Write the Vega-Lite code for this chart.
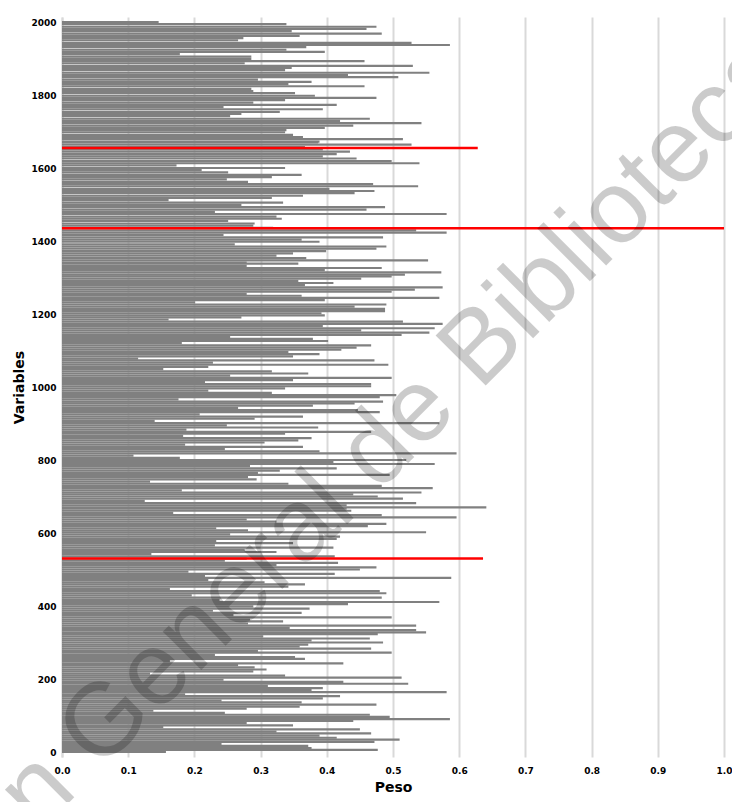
{
"$schema": "https://vega.github.io/schema/vega-lite/v6.json",
"width": 662, "height": 740,
"autosize": {"type": "none"},
"padding": {"left": 62, "top": 17, "right": 8, "bottom": 45},
"background": "white",
"config": {"view": {"stroke": null}, "font": "DejaVu Sans"},
"datasets": {
"g": [
{"v":2000,"p":0.146},{"v":1994,"p":0.339},{"v":1987,"p":0.475},{"v":1981,"p":0.460},{"v":1975,"p":0.347},{"v":1968,"p":0.483},{"v":1962,"p":0.359},{"v":1956,"p":0.274},{"v":1950,"p":0.266},{"v":1943,"p":0.528},{"v":1937,"p":0.586},{"v":1931,"p":0.369},{"v":1924,"p":0.339},{"v":1918,"p":0.397},{"v":1912,"p":0.178},{"v":1905,"p":0.286},{"v":1899,"p":0.286},{"v":1893,"p":0.457},{"v":1887,"p":0.276},{"v":1880,"p":0.530},{"v":1874,"p":0.347},{"v":1868,"p":0.337},{"v":1861,"p":0.555},{"v":1855,"p":0.432},{"v":1849,"p":0.508},{"v":1842,"p":0.296},{"v":1836,"p":0.377},{"v":1830,"p":0.342},{"v":1824,"p":0.457},{"v":1817,"p":0.286},{"v":1811,"p":0.289},{"v":1805,"p":0.352},{"v":1798,"p":0.382},{"v":1792,"p":0.475},{"v":1786,"p":0.337},{"v":1779,"p":0.289},{"v":1773,"p":0.415},{"v":1767,"p":0.244},{"v":1761,"p":0.394},{"v":1754,"p":0.329},{"v":1748,"p":0.271},{"v":1742,"p":0.254},{"v":1735,"p":0.465},{"v":1729,"p":0.420},{"v":1723,"p":0.543},{"v":1716,"p":0.440},{"v":1710,"p":0.397},{"v":1704,"p":0.339},{"v":1698,"p":0.337},{"v":1691,"p":0.349},{"v":1685,"p":0.364},{"v":1679,"p":0.515},{"v":1672,"p":0.389},
{"v":1670,"p":0.387},{"v":1664,"p":0.528},{"v":1657,"p":0.367},{"v":1651,"p":0.394},{"v":1645,"p":0.435},{"v":1638,"p":0.415},{"v":1632,"p":0.394},{"v":1626,"p":0.445},{"v":1619,"p":0.498},{"v":1613,"p":0.540},{"v":1607,"p":0.173},{"v":1600,"p":0.337},{"v":1594,"p":0.211},{"v":1588,"p":0.251},{"v":1581,"p":0.362},{"v":1575,"p":0.317},{"v":1569,"p":0.249},{"v":1562,"p":0.281},{"v":1556,"p":0.470},{"v":1550,"p":0.538},{"v":1543,"p":0.404},{"v":1537,"p":0.472},{"v":1531,"p":0.442},{"v":1524,"p":0.364},{"v":1518,"p":0.317},{"v":1512,"p":0.161},{"v":1505,"p":0.334},{"v":1499,"p":0.271},{"v":1493,"p":0.488},{"v":1486,"p":0.460},{"v":1480,"p":0.231},{"v":1474,"p":0.581},{"v":1467,"p":0.324},{"v":1461,"p":0.332},{"v":1455,"p":0.251},{"v":1448,"p":0.291},{"v":1442,"p":0.289},{"v":1436,"p":0.319},{"v":1429,"p":0.535},{"v":1423,"p":0.581},{"v":1417,"p":0.244},{"v":1410,"p":0.485},{"v":1404,"p":0.362},{"v":1398,"p":0.389},{"v":1391,"p":0.261},{"v":1385,"p":0.490},{"v":1379,"p":0.475},{"v":1372,"p":0.399},{"v":1366,"p":0.349},{"v":1360,"p":0.324},{"v":1353,"p":0.369},{"v":1347,"p":0.553},{"v":1341,"p":0.279},
{"v":1338,"p":0.357},{"v":1332,"p":0.279},{"v":1326,"p":0.483},{"v":1320,"p":0.397},{"v":1314,"p":0.573},{"v":1308,"p":0.518},{"v":1303,"p":0.498},{"v":1297,"p":0.452},{"v":1291,"p":0.357},{"v":1285,"p":0.410},{"v":1279,"p":0.367},{"v":1273,"p":0.575},{"v":1267,"p":0.533},{"v":1261,"p":0.498},{"v":1255,"p":0.279},{"v":1250,"p":0.362},{"v":1244,"p":0.570},{"v":1238,"p":0.397},{"v":1232,"p":0.201},{"v":1226,"p":0.490},{"v":1220,"p":0.442},{"v":1214,"p":0.488},{"v":1208,"p":0.488},{"v":1202,"p":0.392},{"v":1196,"p":0.397},{"v":1191,"p":0.271},{"v":1185,"p":0.161},{"v":1179,"p":0.515},{"v":1173,"p":0.575},{"v":1167,"p":0.394},{"v":1161,"p":0.563},{"v":1155,"p":0.452},{"v":1149,"p":0.555},{"v":1143,"p":0.513},{"v":1137,"p":0.254},{"v":1132,"p":0.379},{"v":1126,"p":0.402},{"v":1120,"p":0.181},{"v":1114,"p":0.467},{"v":1108,"p":0.445},{"v":1102,"p":0.422},{"v":1096,"p":0.342},{"v":1090,"p":0.389},{"v":1084,"p":0.349},{"v":1078,"p":0.115},{"v":1073,"p":0.472},{"v":1067,"p":0.228},{"v":1061,"p":0.493},{"v":1055,"p":0.221},{"v":1049,"p":0.153},{"v":1043,"p":0.317},{"v":1037,"p":0.372},{"v":1031,"p":0.254},{"v":1025,"p":0.498},{"v":1019,"p":0.349},{"v":1014,"p":0.216},{"v":1008,"p":0.467},
{"v":1002,"p":0.467},{"v":996,"p":0.337},{"v":990,"p":0.221},{"v":984,"p":0.317},{"v":978,"p":0.505},{"v":972,"p":0.480},{"v":966,"p":0.176},{"v":960,"p":0.485},{"v":955,"p":0.442},{"v":949,"p":0.379},{"v":943,"p":0.266},{"v":937,"p":0.447},{"v":931,"p":0.480},{"v":925,"p":0.208},{"v":919,"p":0.364},{"v":913,"p":0.291},{"v":907,"p":0.140},{"v":901,"p":0.570},{"v":895,"p":0.249},{"v":889,"p":0.387},{"v":883,"p":0.188},{"v":877,"p":0.467},{"v":872,"p":0.337},{"v":866,"p":0.183},{"v":860,"p":0.377},{"v":854,"p":0.357},{"v":848,"p":0.306},{"v":842,"p":0.186},{"v":836,"p":0.364},{"v":830,"p":0.246},{"v":824,"p":0.389},{"v":818,"p":0.596},{"v":812,"p":0.108},{"v":806,"p":0.178},{"v":800,"p":0.520},{"v":794,"p":0.410},{"v":789,"p":0.563},{"v":783,"p":0.284},{"v":777,"p":0.415},{"v":771,"p":0.329},{"v":765,"p":0.296},{"v":759,"p":0.495},{"v":753,"p":0.281},{"v":747,"p":0.294},{"v":741,"p":0.133},{"v":735,"p":0.342},{"v":729,"p":0.483},{"v":723,"p":0.560},{"v":717,"p":0.181},{"v":711,"p":0.543},{"v":706,"p":0.440},{"v":700,"p":0.477},{"v":694,"p":0.515},{"v":688,"p":0.125},{"v":682,"p":0.535},{"v":676,"p":0.430},{"v":670,"p":0.641},
{"v":667,"p":0.430},{"v":661,"p":0.437},{"v":655,"p":0.168},{"v":649,"p":0.483},{"v":643,"p":0.596},{"v":637,"p":0.279},{"v":631,"p":0.324},{"v":625,"p":0.490},{"v":619,"p":0.462},{"v":613,"p":0.233},{"v":607,"p":0.281},{"v":602,"p":0.550},{"v":596,"p":0.254},{"v":590,"p":0.420},{"v":584,"p":0.415},{"v":578,"p":0.233},{"v":572,"p":0.349},{"v":566,"p":0.231},{"v":560,"p":0.410},{"v":554,"p":0.276},{"v":548,"p":0.324},{"v":542,"p":0.135},{"v":536,"p":0.412},{"v":530,"p":0.279},{"v":524,"p":0.246},{"v":518,"p":0.417},{"v":512,"p":0.324},{"v":506,"p":0.475},{"v":500,"p":0.450},{"v":494,"p":0.191},{"v":488,"p":0.412},{"v":482,"p":0.216},{"v":477,"p":0.588},{"v":471,"p":0.221},{"v":465,"p":0.306},{"v":459,"p":0.367},{"v":453,"p":0.342},{"v":447,"p":0.163},{"v":441,"p":0.480},{"v":435,"p":0.490},{"v":429,"p":0.196},{"v":423,"p":0.483},{"v":417,"p":0.238},{"v":411,"p":0.570},{"v":405,"p":0.432},{"v":399,"p":0.289},{"v":393,"p":0.374},{"v":387,"p":0.228},{"v":381,"p":0.362},{"v":375,"p":0.259},{"v":369,"p":0.498},{"v":363,"p":0.284},{"v":358,"p":0.334},{"v":352,"p":0.281},{"v":346,"p":0.535},{"v":340,"p":0.344},
{"v":334,"p":0.535},{"v":328,"p":0.550},{"v":323,"p":0.477},{"v":317,"p":0.304},{"v":311,"p":0.465},{"v":306,"p":0.377},{"v":300,"p":0.485},{"v":294,"p":0.372},{"v":289,"p":0.359},{"v":283,"p":0.467},{"v":277,"p":0.296},{"v":272,"p":0.498},{"v":266,"p":0.231},{"v":260,"p":0.352},{"v":255,"p":0.367},{"v":249,"p":0.163},{"v":243,"p":0.425},{"v":238,"p":0.266},{"v":232,"p":0.291},{"v":226,"p":0.309},{"v":221,"p":0.289},{"v":215,"p":0.133},{"v":209,"p":0.337},{"v":204,"p":0.513},{"v":198,"p":0.244},{"v":192,"p":0.425},{"v":187,"p":0.523},{"v":181,"p":0.311},{"v":175,"p":0.394},{"v":170,"p":0.377},{"v":164,"p":0.581},{"v":158,"p":0.186},{"v":153,"p":0.420},{"v":147,"p":0.394},{"v":141,"p":0.241},{"v":136,"p":0.362},{"v":130,"p":0.475},{"v":124,"p":0.359},{"v":119,"p":0.279},{"v":113,"p":0.138},{"v":107,"p":0.246},{"v":102,"p":0.465},{"v":96,"p":0.495},{"v":90,"p":0.586},{"v":85,"p":0.440},{"v":79,"p":0.279},{"v":73,"p":0.349},{"v":68,"p":0.153},{"v":62,"p":0.450},{"v":56,"p":0.324},{"v":51,"p":0.467},{"v":45,"p":0.389},{"v":39,"p":0.415},{"v":34,"p":0.510},{"v":28,"p":0.472},{"v":22,"p":0.241},{"v":17,"p":0.372},{"v":11,"p":0.377},{"v":6,"p":0.477},{"v":0,"p":0.157}
],
"r": [{"v":1655,"p":0.628},{"v":1435,"p":1.0},{"v":530,"p":0.636}]
},
"layer": [
{"data": {"name": "g"},
 "mark": {"type": "bar", "orient": "horizontal", "size": 2.2, "color": "#808080", "clip": true},
 "encoding": {
  "y": {"field": "v", "type": "quantitative", "scale": {"domain": [0, 2000], "nice": false},
   "axis": {"title": "Variables", "values": [0,100,200,300,400,500,600,700,800,900,1000,1100,1200,1300,1400,1500,1600,1700,1800,1900,2000], "format": "d",
    "labelFontSize": 9, "labelFontWeight": "bold", "labelColor": "#000", "labelFlush": false, "ticks": false, "grid": false,
    "domainColor": "#d9d9d9", "domainWidth": 2, "labelPadding": 6,
    "titleFontSize": 14, "titleFontWeight": "bold", "titleColor": "#000", "titlePadding": 4}},
  "x": {"field": "p", "type": "quantitative", "scale": {"domain": [0, 1], "nice": false},
   "axis": {"title": "Peso", "values": [0,0.1,0.2,0.3,0.4,0.5,0.6,0.7,0.8,0.9,1], "format": ".1f",
    "labelFontSize": 9, "labelFontWeight": "bold", "labelColor": "#000", "labelFlush": false, "ticks": false, "domain": false,
    "grid": true, "gridColor": "#d9d9d9", "gridWidth": 2, "labelPadding": 9,
    "titleFontSize": 14, "titleFontWeight": "bold", "titleColor": "#000", "titlePadding": 5}}
 }},
{"data": {"name": "r"},
 "mark": {"type": "bar", "orient": "horizontal", "size": 2.6, "color": "#ff0000", "clip": true},
 "encoding": {
  "y": {"field": "v", "type": "quantitative"},
  "x": {"field": "p", "type": "quantitative"}
 }},
{"data": {"values": [{}]},
 "mark": {"type": "text", "text": "Dirección General de Bibliotecas", "angle": -45, "fontSize": 103, "font": "Liberation Sans", "color": "#000", "opacity": 0.2, "align": "center", "baseline": "middle"},
 "encoding": {"x": {"datum": 0.332}, "y": {"datum": 565}}}
]
}
